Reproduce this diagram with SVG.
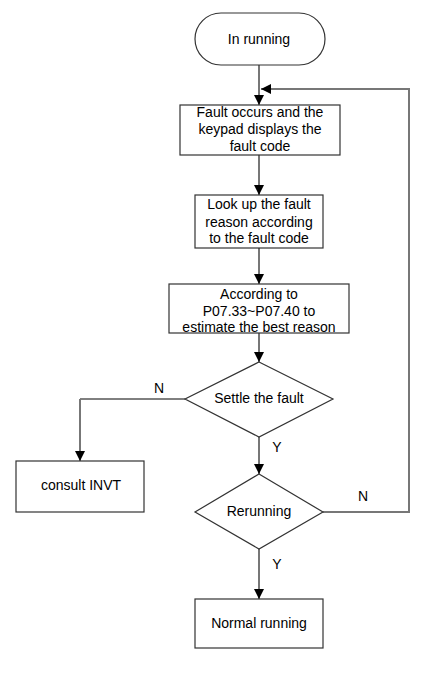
<svg xmlns="http://www.w3.org/2000/svg" width="433" height="681" viewBox="0 0 433 681">
<defs>
<marker id="ah" viewBox="0 0 10 10" refX="10" refY="5" markerWidth="10" markerHeight="10" markerUnits="userSpaceOnUse" orient="auto">
<path d="M0,0 L10,5 L0,10 Z" fill="#000"/>
</marker>
</defs>
<style>
.shape{fill:#fff;stroke:#333;stroke-width:1.2}
.t{font-family:"Liberation Sans",Arial,sans-serif;font-size:14px;fill:#000;text-anchor:middle}
.c{fill:none;stroke:#777;stroke-width:2}
.cb{fill:none;stroke:#000;stroke-width:1}
</style>
<rect width="433" height="681" fill="#fff"/>
<g id="connectors">
<path class="c" d="M259,65 V105" marker-end="url(#ah)"/>
<path class="c" d="M323,512 H409 V89 H261" marker-end="url(#ah)"/>
<path class="c" d="M259,155 V195" marker-end="url(#ah)"/>
<path class="c" d="M259,248 V284" marker-end="url(#ah)"/>
<path class="c" d="M259,333 V362" marker-end="url(#ah)"/>
<path class="cb" d="M185,399 H80"/>
<path class="c" d="M80,399 V461" marker-end="url(#ah)"/>
<path class="c" d="M259,437 V474" marker-end="url(#ah)"/>
<path class="c" d="M259,549 V599" marker-end="url(#ah)"/>
<text class="t" x="159" y="393">N</text>
<text class="t" x="277" y="452">Y</text>
<text class="t" x="363" y="501">N</text>
<text class="t" x="277" y="569">Y</text>
</g>
<g id="start">
<rect class="shape" x="195" y="13" width="130" height="52" rx="26" ry="26"/>
<text class="t" x="259" y="44">In running</text>
</g>
<g id="fault">
<rect class="shape" x="180" y="105" width="160" height="50"/>
<text class="t" x="260" y="117">Fault occurs and the</text>
<text class="t" x="260" y="134">keypad displays the</text>
<text class="t" x="260" y="151">fault code</text>
</g>
<g id="lookup">
<rect class="shape" x="195" y="195" width="128" height="53"/>
<text class="t" x="259" y="209">Look up the fault</text>
<text class="t" x="259" y="227">reason according</text>
<text class="t" x="259" y="243">to the fault code</text>
</g>
<g id="estimate">
<rect class="shape" x="169" y="284" width="180" height="49"/>
<text class="t" x="259" y="299">According to</text>
<text class="t" x="259" y="316">P07.33~P07.40 to</text>
<text class="t" x="259" y="332">estimate the best reason</text>
</g>
<g id="settle">
<polygon class="shape" points="259,362 333,399 259,437 185,399"/>
<text class="t" x="259" y="403">Settle the fault</text>
</g>
<g id="consult">
<rect class="shape" x="16" y="461" width="128" height="51"/>
<text class="t" x="81" y="490">consult INVT</text>
</g>
<g id="rerun">
<polygon class="shape" points="259,474 323,512 259,549 195,512"/>
<text class="t" x="259" y="516">Rerunning</text>
</g>
<g id="normal">
<rect class="shape" x="195" y="599" width="128" height="49"/>
<text class="t" x="259" y="628">Normal running</text>
</g>
</svg>
